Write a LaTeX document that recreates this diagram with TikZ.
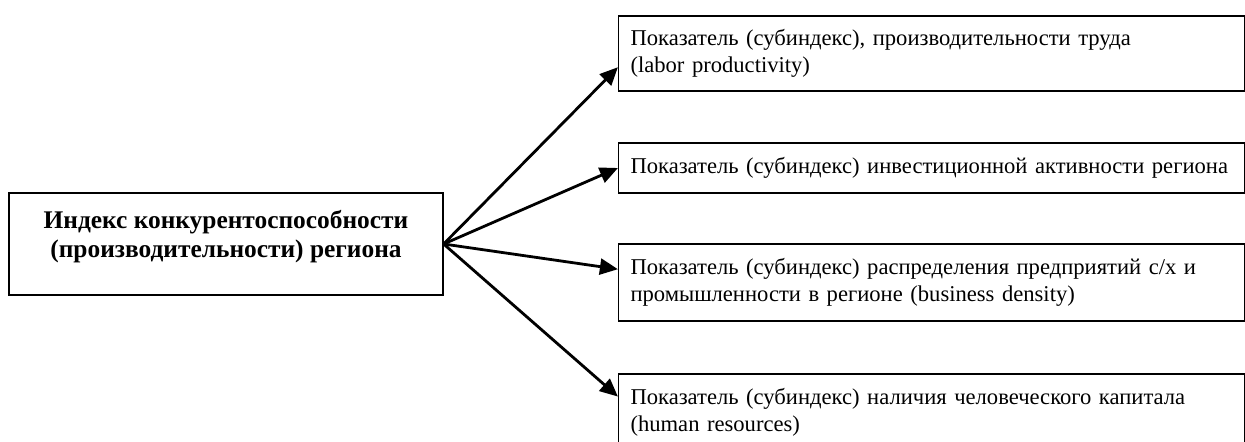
\documentclass[tikz,border=0pt]{standalone}
\usepackage{fontspec}
\setmainfont{Liberation Serif}
\usetikzlibrary{arrows.meta,calc}

\begin{document}
\begin{tikzpicture}[x=0.5pt,y=0.5pt,
  pokbox/.style={draw, line width=0.6pt, text width=301pt, inner xsep=6pt, inner ysep=0pt, align=left, font=\fontsize{11.3}{13.5}\selectfont},
  fan/.style={line width=1.4pt, -{Triangle[length=9pt,width=8pt]}}]
\useasboundingbox (0,0) rectangle (1245,441);
\node [draw, line width=0.6pt, minimum width=217pt, minimum height=51pt, align=center, font=\bfseries\fontsize{12.7}{14.5}\selectfont] (idx) at (226,197) {Индекс конкурентоспособности\\(производительности) региона\\[-4pt]\mbox{}};
\node [pokbox, minimum height=37.5pt] (p1) at (931.5,387.5) {Показатель (субиндекс), производительности труда\\(labor productivity)};
\node [pokbox, minimum height=25pt] (p2) at (931.5,273) {Показатель (субиндекс) инвестиционной активности региона};
\node [pokbox, minimum height=38.5pt] (p3) at (931.5,158.5) {Показатель (субиндекс) распределения предприятий с/х и\\промышленности в регионе (business density)};
\node [pokbox, minimum height=38pt] (p4) at (931.5,29) {Показатель (субиндекс) наличия человеческого капитала\\(human resources)};
\draw [fan] (idx.east) -- ($(p1.south west)!0.32!(p1.north west)$);
\draw [fan] (idx.east) -- (p2.west);
\draw [fan] (idx.east) -- ($(p3.south west)!0.67!(p3.north west)$);
\draw [fan] (idx.east) -- ($(p4.south west)!0.7!(p4.north west)$);
\end{tikzpicture}
\end{document}
